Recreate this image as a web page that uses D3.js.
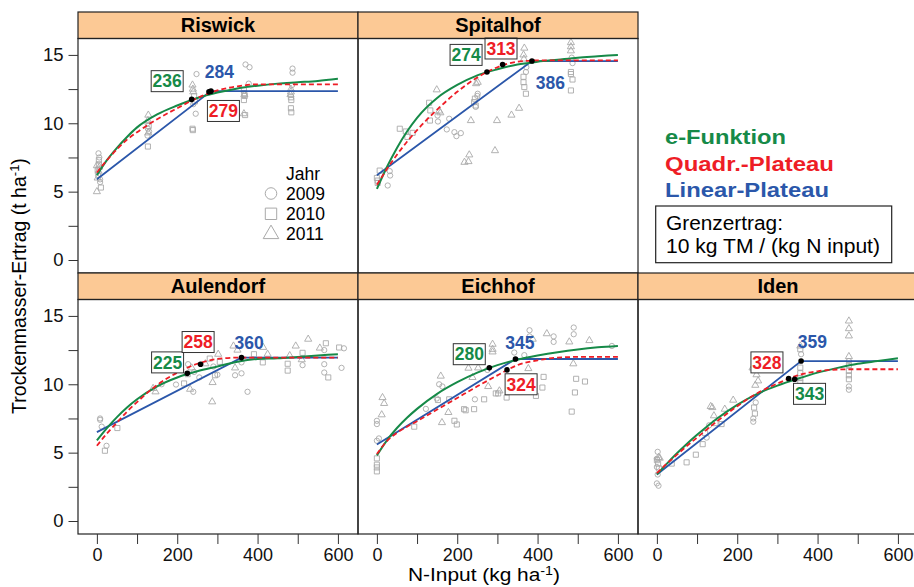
<!DOCTYPE html>
<html>
<head>
<meta charset="utf-8">
<script src="https://cdn.jsdelivr.net/npm/d3@7"></script>
<style>
  body { margin: 0; background: #fff; }
  svg { display: block; font-family: 'Liberation Sans', Arial, sans-serif; }
</style>
</head>
<body>
<div id="chart"></div>
<script>
// N input grid for the fitted curves (kg N / ha)
const nGrid = [0, 25, 50, 75, 100, 150, 200, 250, 300, 350, 400, 450, 500, 550, 600];

// Riswick
const riswickExp = [6.2, 7.3, 8.2, 9.0, 9.7, 10.65, 11.3, 11.85, 12.25, 12.55, 12.75, 12.9, 13.0, 13.1, 13.25];
const riswickQuad = [6.4, 7.3, 8.1, 8.8, 9.35, 10.3, 11.1, 11.85, 12.4, 12.7, 12.85, 12.85, 12.85, 12.85, 12.85];
const riswickLin = [[0, 5.9], [284, 12.35], [600, 12.35]];
const riswickDots = [[236, 11.75], [279, 12.3], [284, 12.35]];
const riswickLabels = [['236', 175, 13.08, 'e'], ['284', 305, 13.77, 'l'], ['279', 315, 10.9, 'q']];
const riswickPts = [
  [4, 7.8, 2009], [6, 7.5, 2009], [3, 6.2, 2009], [8, 5.7, 2009], [8, 5.9, 2009],
  [5, 7.3, 2010], [5, 7.0, 2010], [2, 6.6, 2010], [10, 5.3, 2010],
  [0, 6.9, 2011], [4, 6.5, 2011], [2, 6.0, 2011], [0, 5.0, 2011], [6, 6.8, 2011],
  [128, 10.6, 2011], [127, 10.2, 2011], [126, 10.0, 2009], [129, 9.8, 2010], [127, 9.6, 2009],
  [130, 9.4, 2009], [128, 9.3, 2011], [126, 9.1, 2009], [127, 8.3, 2010],
  [248, 13.6, 2009], [238, 12.8, 2011], [239, 12.5, 2011], [240, 12.3, 2011], [242, 12.0, 2010],
  [244, 11.6, 2010], [240, 11.4, 2009], [246, 10.7, 2009], [238, 9.6, 2010], [239, 9.5, 2010],
  [370, 14.3, 2009], [380, 14.1, 2009], [378, 12.9, 2009], [366, 12.4, 2010], [367, 12.2, 2010],
  [368, 12.0, 2010], [366, 11.7, 2010], [367, 12.1, 2011], [366, 10.7, 2011], [369, 10.6, 2010],
  [487, 14.0, 2009], [487, 13.7, 2009], [486, 12.8, 2009], [483, 12.5, 2011], [483, 12.3, 2011],
  [483, 11.9, 2010], [484, 11.7, 2010], [483, 11.1, 2010], [484, 10.8, 2010], [482, 12.1, 2011]
];

// Spitalhof
const spitalhofExp = [5.2, 6.8, 8.2, 9.4, 10.4, 11.85, 12.8, 13.5, 13.95, 14.3, 14.5, 14.65, 14.8, 14.9, 15.0];
const spitalhofQuad = [5.5, 6.65, 7.7, 8.65, 9.5, 11.0, 12.3, 13.35, 14.1, 14.5, 14.6, 14.6, 14.6, 14.6, 14.6];
const spitalhofLin = [[0, 6.2], [386, 14.55], [600, 14.55]];
const spitalhofDots = [[274, 13.75], [313, 14.3], [386, 14.55]];
const spitalhofLabels = [['274', 222, 15.0, 'e'], ['313', 309, 15.47, 'q'], ['386', 432, 12.94, 'l']];
const spitalhofPts = [
  [7, 6.54, 2010], [2, 5.81, 2010], [2, 5.64, 2010], [0, 6.0, 2010],
  [32, 6.5, 2009], [33, 6.18, 2009], [27, 5.45, 2009],
  [57, 9.6, 2010], [72, 9.4, 2010], [89, 9.3, 2010], [76, 9.0, 2010],
  [149, 12.45, 2011], [130, 11.5, 2010], [133, 10.94, 2010], [151, 10.57, 2009], [132, 10.2, 2010],
  [158, 10.77, 2011], [152, 10.13, 2009], [155, 10.9, 2011],
  [180, 10.33, 2009], [174, 9.55, 2009], [193, 9.35, 2009], [209, 9.28, 2009], [198, 9.06, 2009],
  [230, 7.69, 2011], [218, 7.15, 2011], [228, 7.2, 2011], [234, 10.2, 2011],
  [251, 13.0, 2011], [247, 12.9, 2011], [244, 11.8, 2010], [251, 12.16, 2009], [242, 11.55, 2010],
  [246, 11.3, 2010], [246, 11.2, 2009], [250, 12.0, 2009],
  [299, 10.2, 2011], [294, 8.0, 2011], [335, 10.6, 2011], [354, 11.1, 2011],
  [367, 15.5, 2011], [365, 15.0, 2011], [366, 14.7, 2011], [371, 13.75, 2009], [365, 13.4, 2010],
  [365, 13.0, 2010], [367, 12.65, 2010], [371, 12.16, 2010], [372, 14.1, 2009],
  [483, 15.9, 2011], [483, 15.6, 2011], [483, 15.3, 2011], [487, 14.4, 2009], [483, 13.75, 2010],
  [483, 13.6, 2010], [487, 13.2, 2010], [483, 12.4, 2010], [485, 14.8, 2009]
];

// Aulendorf
const aulendorfExp = [5.9, 6.8, 7.6, 8.3, 8.9, 9.85, 10.5, 10.95, 11.3, 11.65, 11.85, 11.9, 12.0, 12.1, 12.2];
const aulendorfQuad = [5.5, 6.4, 7.2, 8.0, 8.7, 9.95, 10.85, 11.5, 11.85, 11.95, 11.95, 11.95, 11.95, 11.95, 11.95];
const aulendorfLin = [[0, 6.5], [360, 11.95], [600, 11.95]];
const aulendorfDots = [[225, 10.8], [258, 11.47], [360, 11.95]];
const aulendorfLabels = [['225', 176, 11.6, 'e'], ['258', 252, 13.09, 'q'], ['360', 379, 13.05, 'l']];
const aulendorfPts = [
  [8, 7.5, 2009], [8, 7.4, 2009], [12, 6.9, 2009], [24, 5.5, 2009], [20, 5.14, 2010], [51, 6.8, 2010],
  [140, 9.7, 2011], [146, 9.45, 2011], [161, 10.0, 2009], [197, 9.98, 2009],
  [227, 11.47, 2009], [226, 10.74, 2010], [232, 9.64, 2011], [240, 9.45, 2009], [217, 10.06, 2010],
  [255, 10.5, 2009], [287, 8.72, 2011], [242, 10.9, 2009], [236, 11.2, 2011],
  [281, 11.88, 2010], [288, 10.13, 2011], [302, 12.2, 2011], [306, 11.64, 2010], [294, 10.66, 2010],
  [300, 10.7, 2009], [290, 11.3, 2009], [270, 11.5, 2011],
  [340, 12.8, 2011], [344, 11.2, 2011], [344, 10.66, 2009], [360, 10.8, 2009], [360, 11.6, 2009],
  [375, 9.45, 2009], [350, 12.5, 2011],
  [391, 12.2, 2010], [413, 11.6, 2010], [414, 12.7, 2011], [425, 12.2, 2011],
  [495, 12.8, 2011], [526, 13.3, 2011], [475, 11.5, 2010], [475, 11.0, 2010], [512, 12.3, 2010],
  [512, 11.4, 2009], [510, 11.8, 2011], [480, 12.1, 2011],
  [570, 13.0, 2010], [555, 12.65, 2011], [566, 12.5, 2009], [566, 11.47, 2009], [566, 10.86, 2009],
  [576, 10.5, 2010], [603, 12.69, 2010], [615, 12.63, 2009], [609, 11.2, 2009]
];

// Eichhof
const eichhofExp = [4.8, 5.9, 6.8, 7.55, 8.2, 9.3, 10.15, 10.85, 11.4, 11.8, 12.1, 12.35, 12.55, 12.7, 12.8];
const eichhofQuad = [4.9, 5.85, 6.45, 6.9, 7.3, 8.15, 9.0, 9.85, 10.65, 11.4, 11.75, 11.95, 12.0, 12.0, 12.0];
const eichhofLin = [[0, 5.6], [345, 11.85], [600, 11.85]];
const eichhofDots = [[280, 11.2], [324, 11.05], [345, 11.85]];
const eichhofLabels = [['280', 230, 12.2, 'e'], ['345', 356, 13.05, 'l'], ['324', 359, 10.0, 'q']];
const eichhofPts = [
  [0, 7.33, 2009], [0, 7.09, 2009], [0, 5.87, 2009], [5, 6.04, 2009], [0, 4.58, 2010], [0, 4.12, 2010],
  [0, 3.92, 2010], [0, 3.63, 2010], [14, 9.03, 2011], [18, 8.6, 2011], [12, 7.77, 2011],
  [93, 6.9, 2010], [122, 8.2, 2009], [149, 8.96, 2009], [152, 8.85, 2010],
  [159, 10.6, 2011], [162, 7.2, 2011], [178, 7.94, 2011], [155, 10.0, 2009], [163, 9.84, 2009],
  [180, 8.9, 2010], [193, 7.33, 2010], [199, 7.06, 2010],
  [217, 8.18, 2010], [221, 8.1, 2010], [242, 8.18, 2010], [244, 8.9, 2009], [267, 8.9, 2010],
  [228, 11.18, 2011], [238, 10.5, 2011], [252, 11.2, 2011], [277, 9.84, 2011], [288, 12.93, 2011],
  [288, 12.56, 2011], [288, 12.37, 2011], [275, 11.05, 2009], [305, 9.52, 2011], [296, 9.33, 2010],
  [302, 9.33, 2010], [323, 9.03, 2010],
  [342, 12.32, 2009], [367, 12.13, 2009], [380, 13.95, 2009], [380, 13.5, 2009], [377, 11.15, 2011],
  [383, 9.64, 2010], [396, 9.15, 2010], [412, 9.76, 2010], [415, 10.54, 2010], [388, 13.3, 2011],
  [423, 13.7, 2011], [440, 13.5, 2009], [440, 13.1, 2009], [479, 13.1, 2011], [490, 14.15, 2009],
  [490, 13.66, 2009], [489, 11.5, 2011], [496, 10.4, 2010], [493, 9.4, 2010], [485, 8.0, 2010],
  [518, 10.2, 2010], [529, 13.2, 2011], [585, 12.8, 2009]
];

// Iden
const idenExp = [3.4, 4.2, 4.95, 5.65, 6.3, 7.5, 8.5, 9.3, 9.9, 10.4, 10.85, 11.2, 11.5, 11.7, 11.9];
const idenQuad = [3.5, 4.2, 4.85, 5.5, 6.1, 7.3, 8.4, 9.35, 10.05, 10.65, 10.95, 11.08, 11.1, 11.1, 11.1];
const idenLin = [[0, 3.4], [359, 11.7], [600, 11.7]];
const idenDots = [[343, 10.37], [328, 10.42], [359, 11.7]];
const idenLabels = [['359', 387, 13.1, 'l'], ['328', 274, 11.6, 'q'], ['343', 380, 9.3, 'e']];
const idenPts = [
  [2, 5.06, 2009], [0, 4.55, 2009], [4, 4.65, 2011], [7, 4.6, 2011], [0, 4.45, 2010], [3, 4.2, 2010],
  [0, 3.95, 2009], [5, 3.85, 2010], [2, 3.4, 2009], [0, 2.75, 2009], [4, 2.58, 2009],
  [37, 4.2, 2010], [74, 4.29, 2010], [97, 4.85, 2010], [114, 5.62, 2010], [120, 6.43, 2010],
  [134, 8.38, 2011], [138, 8.3, 2011], [130, 7.0, 2009], [124, 6.1, 2009], [142, 7.7, 2011],
  [146, 7.16, 2010], [161, 7.09, 2010], [169, 8.18, 2011], [190, 8.84, 2011],
  [248, 10.7, 2011], [252, 10.25, 2011], [245, 9.93, 2011], [246, 8.67, 2009], [242, 8.3, 2010],
  [244, 7.86, 2010], [240, 7.5, 2009], [240, 7.26, 2009], [238, 11.2, 2011],
  [357, 12.8, 2011], [357, 12.56, 2010], [357, 11.22, 2010], [357, 10.81, 2010], [357, 10.45, 2010],
  [357, 10.13, 2010], [359, 12.2, 2009],
  [478, 14.63, 2011], [478, 14.07, 2011], [478, 13.54, 2011], [478, 12.03, 2011], [478, 11.4, 2010],
  [478, 10.98, 2010], [478, 10.66, 2010], [478, 10.37, 2010], [478, 9.84, 2009], [478, 9.6, 2009],
  [478, 11.7, 2009]
];

const years = [2009, 2010, 2011];
const models = ['e-Funktion', 'Quadr.-Plateau', 'Linear-Plateau'];
const yTicks = [0, 2.5, 5, 7.5, 10, 12.5, 15];
const xTicks = [0, 100, 200, 300, 400, 500, 600];

const panels = [
  { name: 'Riswick', col: 0, row: 0, exp: riswickExp, quad: riswickQuad, lin: riswickLin, dots: riswickDots, labels: riswickLabels, pts: riswickPts },
  { name: 'Spitalhof', col: 1, row: 0, exp: spitalhofExp, quad: spitalhofQuad, lin: spitalhofLin, dots: spitalhofDots, labels: spitalhofLabels, pts: spitalhofPts },
  { name: 'Aulendorf', col: 0, row: 1, exp: aulendorfExp, quad: aulendorfQuad, lin: aulendorfLin, dots: aulendorfDots, labels: aulendorfLabels, pts: aulendorfPts },
  { name: 'Eichhof', col: 1, row: 1, exp: eichhofExp, quad: eichhofQuad, lin: eichhofLin, dots: eichhofDots, labels: eichhofLabels, pts: eichhofPts },
  { name: 'Iden', col: 2, row: 1, exp: idenExp, quad: idenQuad, lin: idenLin, dots: idenDots, labels: idenLabels, pts: idenPts }
];

// Chart dimensions
const width = 914, height = 587;
const marginLeft = 78, marginTop = 12;
const panelW = 280, stripH = 26.5, plotH = 234.5;
const colors = { e: '#168a48', q: '#ee1d26', l: '#2b57aa' };
const gray = '#a9a9a9';
const shapes = { 2009: d3.symbolCircle, 2010: d3.symbolSquare, 2011: d3.symbolTriangle };
const sizes = { 2009: 22, 2010: 26, 2011: 22 };

// Scales
const x = d3.scaleLinear().domain([-47, 650]).range([0, panelW]);
const y = d3.scaleLinear().domain([-0.95, 16.2]).range([plotH, 0]);

const smoothLine = d3.line()
  .x((d, i) => x(nGrid[i]))
  .y(d => y(d))
  .curve(d3.curveMonotoneX);

const straightLine = d3.line()
  .x(d => x(d[0]))
  .y(d => y(d[1]));

const svg = d3.select('#chart').append('svg')
  .attr('width', width)
  .attr('height', height);

panels.forEach(p => {
  const g = svg.append('g')
    .attr('transform', `translate(${marginLeft + p.col * panelW}, ${marginTop + p.row * (stripH + plotH)})`);

  // strip
  g.append('rect')
    .attr('width', panelW)
    .attr('height', stripH)
    .attr('fill', '#fcc995')
    .attr('stroke', '#222')
    .attr('stroke-width', 1.2);

  g.append('text')
    .attr('x', panelW / 2)
    .attr('y', stripH / 2)
    .attr('dy', '.36em')
    .attr('text-anchor', 'middle')
    .style('font-size', '20px')
    .style('font-weight', 'bold')
    .text(p.name);

  const plot = g.append('g').attr('transform', `translate(0, ${stripH})`);

  // raw observations
  plot.selectAll('path.obs')
    .data(p.pts)
    .join('path')
    .attr('class', 'obs')
    .attr('transform', d => `translate(${x(d[0])}, ${y(d[1])})`)
    .attr('d', d => d3.symbol().type(shapes[d[2]]).size(sizes[d[2]])())
    .attr('fill', 'none')
    .attr('stroke', gray)
    .attr('stroke-width', 0.9);

  // fitted curves
  plot.append('path')
    .datum(p.lin)
    .attr('d', straightLine)
    .attr('fill', 'none')
    .attr('stroke', colors.l)
    .attr('stroke-width', 1.8);

  plot.append('path')
    .datum(p.exp)
    .attr('d', smoothLine)
    .attr('fill', 'none')
    .attr('stroke', colors.e)
    .attr('stroke-width', 2);

  plot.append('path')
    .datum(p.quad)
    .attr('d', smoothLine)
    .attr('fill', 'none')
    .attr('stroke', colors.q)
    .attr('stroke-width', 1.8)
    .attr('stroke-dasharray', '5,3');

  // Grenzertrag points
  plot.selectAll('circle.mark')
    .data(p.dots)
    .join('circle')
    .attr('class', 'mark')
    .attr('cx', d => x(d[0]))
    .attr('cy', d => y(d[1]))
    .attr('r', 2.8)
    .attr('fill', '#000');

  // value labels
  p.labels.forEach(l => {
    const lx = x(l[1]), ly = y(l[2]);
    if (l[3] !== 'l') {
      plot.append('rect')
        .attr('x', lx - 16)
        .attr('y', ly - 10.5)
        .attr('width', 32)
        .attr('height', 21)
        .attr('fill', '#fff')
        .attr('stroke', '#333')
        .attr('stroke-width', 1);
    }
    plot.append('text')
      .attr('x', lx)
      .attr('y', ly)
      .attr('dy', '.36em')
      .attr('text-anchor', 'middle')
      .style('font-size', '17.5px')
      .style('font-weight', 'bold')
      .attr('fill', colors[l[3]])
      .text(l[0]);
  });

  plot.append('rect')
    .attr('width', panelW)
    .attr('height', plotH)
    .attr('fill', 'none')
    .attr('stroke', '#222')
    .attr('stroke-width', 1.2);

  // Axes
  if (p.col === 0) {
    const yAxis = plot.append('g')
      .call(d3.axisLeft(y).tickValues(yTicks).tickSize(9.5).tickPadding(5)
        .tickFormat(d => d % 5 === 0 ? d : ''));
    yAxis.select('.domain').remove();
    yAxis.selectAll('line').attr('stroke', '#333');
    yAxis.selectAll('text').style('font-size', '18.5px').attr('fill', '#111')
      .attr('font-family', 'Liberation Sans, Arial, sans-serif');
  }
  if (p.row === 1) {
    const xAxis = plot.append('g')
      .attr('transform', `translate(0, ${plotH})`)
      .call(d3.axisBottom(x).tickValues(xTicks).tickSize(10).tickPadding(4)
        .tickFormat(d => d % 200 === 0 ? d : ''));
    xAxis.select('.domain').remove();
    xAxis.selectAll('line').attr('stroke', '#333');
    xAxis.selectAll('text').style('font-size', '18px').attr('fill', '#111')
      .attr('font-family', 'Liberation Sans, Arial, sans-serif');
  }
});

// Jahr key inside Riswick panel
const key = svg.append('g').attr('transform', 'translate(271, 0)');
key.append('text')
  .attr('x', 15)
  .attr('y', 179.5)
  .style('font-size', '17.5px')
  .text('Jahr');
years.forEach((yr, i) => {
  const cy = 193.5 + i * 20.3;
  key.append('path')
    .attr('transform', `translate(0, ${cy})`)
    .attr('d', d3.symbol().type(shapes[yr]).size(yr === 2010 ? 130 : 105)())
    .attr('fill', 'none')
    .attr('stroke', gray)
    .attr('stroke-width', 1);
  key.append('text')
    .attr('x', 15)
    .attr('y', cy + 6)
    .style('font-size', '17.5px')
    .text(yr);
});

// Model legend in the empty top-right cell
const legend = svg.append('g').attr('transform', 'translate(665, 0)');
const legendWidths = [121, 169, 164];
models.forEach((m, i) => {
  legend.append('text')
    .attr('x', 0)
    .attr('y', 144.3 + i * 26.2)
    .attr('textLength', legendWidths[i])
    .attr('lengthAdjust', 'spacingAndGlyphs')
    .style('font-size', '20px')
    .style('font-weight', 'bold')
    .attr('fill', colors['eql'[i]])
    .text(m);
});

legend.append('rect')
  .attr('x', -9.3)
  .attr('y', 206)
  .attr('width', 236)
  .attr('height', 56.7)
  .attr('fill', '#fff')
  .attr('stroke', '#222')
  .attr('stroke-width', 1.2);

legend.append('text')
  .attr('x', 1)
  .attr('y', 230)
  .attr('textLength', 117)
  .attr('lengthAdjust', 'spacingAndGlyphs')
  .style('font-size', '19.5px')
  .text('Grenzertrag:');

legend.append('text')
  .attr('x', 1)
  .attr('y', 253.3)
  .attr('textLength', 214)
  .attr('lengthAdjust', 'spacingAndGlyphs')
  .style('font-size', '19.5px')
  .text('10 kg TM / (kg N input)');

// Axis titles
const yTitle = svg.append('text')
  .attr('transform', 'translate(26, 286) rotate(-90)')
  .attr('text-anchor', 'middle')
  .style('font-size', '19.5px');
yTitle.append('tspan').text('Trockenmasser-Ertrag (t ha');
yTitle.append('tspan').attr('dy', -7).style('font-size', '13px').text('-1');
yTitle.append('tspan').attr('dy', 7).text(')');

const xTitle = svg.append('text')
  .attr('x', 408)
  .attr('y', 581)
  .attr('textLength', 152)
  .attr('lengthAdjust', 'spacingAndGlyphs')
  .style('font-size', '17.5px');
xTitle.append('tspan').text('N-Input (kg ha');
xTitle.append('tspan').attr('dy', -6).style('font-size', '12px').text('-1');
xTitle.append('tspan').attr('dy', 6).text(')');
</script>
</body>
</html>
